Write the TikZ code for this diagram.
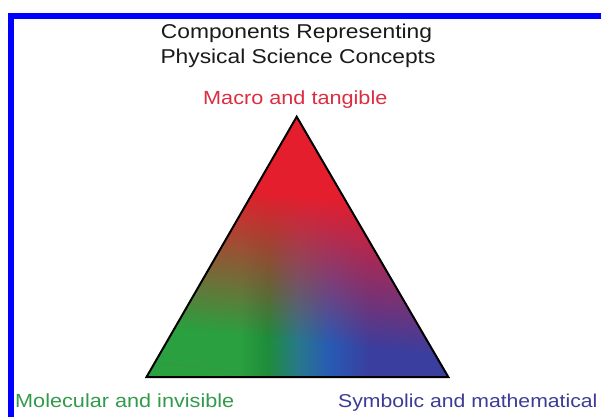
\documentclass[tikz,border=0pt]{standalone}
\usepackage{fontspec}
\setmainfont{Liberation Sans}[FakeStretch=1.14]
\usetikzlibrary{fadings}
\definecolor{cR}{RGB}{228,30,45}
\definecolor{cG}{RGB}{42,160,64}
\definecolor{cGd}{RGB}{30,140,58}
\definecolor{cT}{RGB}{40,120,140}
\definecolor{cB1}{RGB}{40,90,180}
\definecolor{cB}{RGB}{58,62,158}
\definecolor{frameblue}{RGB}{0,0,255}
\definecolor{titlecol}{RGB}{26,26,26}
\definecolor{macrocol}{RGB}{220,45,65}
\definecolor{molcol}{RGB}{50,155,75}
\definecolor{symcol}{RGB}{60,60,150}
\pgfdeclarehorizontalshading{gbshade}{100bp}{color(0bp)=(cG); color(25bp)=(cG); color(40.5bp)=(cG); color(45.1bp)=(cGd); color(50.1bp)=(cT); color(55.4bp)=(cB1); color(62bp)=(cB); color(100bp)=(cB)}
\pgfdeclareverticalshading{redfadeshade}{100bp}{color(0bp)=(black); color(32bp)=(black); color(40bp)=(black!70); color(47bp)=(black!45); color(54bp)=(black!20); color(60bp)=(white); color(100bp)=(white)}
\begin{tikzfadingfrompicture}[name=redfade]
\shade[shading=redfadeshade] (-150.9pt,-130.15pt) rectangle (150.9pt,130.15pt);
\end{tikzfadingfrompicture}
\tikzset{
  blueframe/.style={draw=frameblue, line width=6pt},
  tri/.style={draw=black, line width=2pt, line join=miter},
  titletext/.style={inner sep=0pt, anchor=base, text=titlecol, font=\fontsize{20}{24}\selectfont},
  labeltext/.style={inner sep=0pt, anchor=base west, font=\fontsize{19}{23}\selectfont},
}
\begin{document}
\begin{tikzpicture}[x=1pt,y=-1pt]
\useasboundingbox (0,0) rectangle (601,416);
\fill[white] (0,0) rectangle (601,416);
\begin{scope}
\clip (0,0) rectangle (601,416);
\draw[blueframe] (11,440) -- (11,15.5) -- (630,15.5);
\end{scope}
\coordinate (top) at (296.7,116.7);
\coordinate (bl) at (146.5,377);
\coordinate (br) at (448.3,377);
\shade[shading=gbshade] (top) -- (bl) -- (br) -- cycle;
\fill[cR, path fading=redfade, fit fading=false, fading transform={xshift=297.4pt, yshift=-246.85pt, rotate=-6}] (top) -- (bl) -- (br) -- cycle;
\draw[tri] (top) -- (bl) -- (br) -- cycle;
\node[titletext] (title1) at (296.5,38) {Components Representing};
\node[titletext] (title2) at (298,63) {Physical Science Concepts};
\node[labeltext, text=macrocol] (macro) at (203,104) {Macro and tangible};
\node[labeltext, text=molcol] (mol) at (15,407) {Molecular and invisible};
\node[labeltext, text=symcol, font=\fontsize{18.6}{22}\selectfont] (sym) at (338,407) {Symbolic and mathematical};
\end{tikzpicture}
\end{document}
